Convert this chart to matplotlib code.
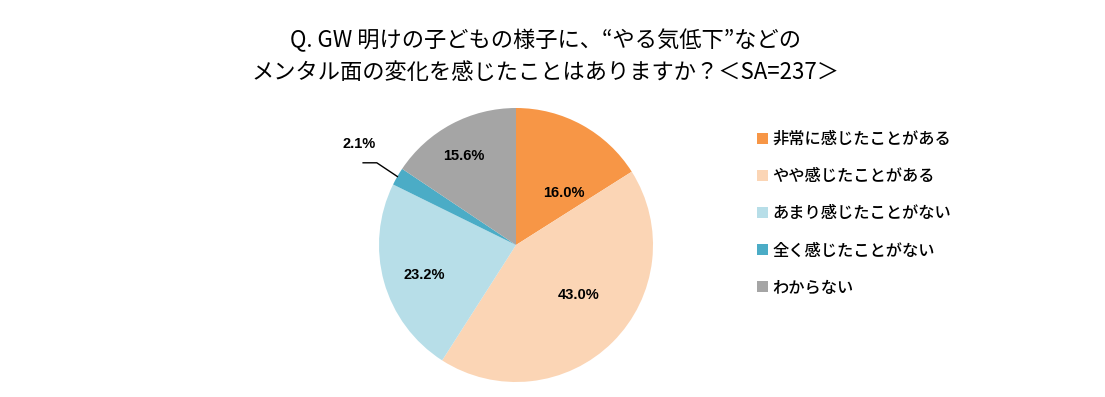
import numpy as np
import matplotlib.pyplot as plt

plt.rcParams['font.family'] = ['Noto Sans CJK JP', 'DejaVu Sans']

# data
labels = ['非常に感じたことがある', 'やや感じたことがある', 'あまり感じたことがない',
          '全く感じたことがない', 'わからない']
values = [16.0, 43.0, 23.2, 2.1, 15.6]
colors = ['#F79646', '#FBD5B5', '#B7DEE8', '#4BACC6', '#A5A5A5']
title = 'Q. GW 明けの子どもの様子に、“やる気低下”などの\nメンタル面の変化を感じたことはありますか？＜SA=237＞'

# label placement (radius fraction, angle offset from wedge middle)
label_r = [0.52, 0.58, 0.70, None, 0.76]
label_shift = [-13, 7, 2, 0, 2]

W, H = 1105, 397
fig = plt.figure(figsize=(W / 100, H / 100), dpi=100)

cx, cy, r = 516, 245, 137
ax = fig.add_axes([(cx - r) / W, (H - cy - r) / H, 2 * r / W, 2 * r / H])
wedges, _ = ax.pie(values, colors=colors, startangle=90, counterclock=False,
                   radius=1, wedgeprops=dict(linewidth=0))
ax.set_xlim(-1, 1)
ax.set_ylim(-1, 1)
ax.axis('off')

for w, v, lr, sh in zip(wedges, values, label_r, label_shift):
    mid = np.deg2rad((w.theta1 + w.theta2) / 2 + sh)
    if lr is None:
        # small slice: leader line out to the left
        ex, ey = np.cos(mid), np.sin(mid)
        ax.plot([ex, ex - 0.15, ex - 0.25], [ey, ey + 0.1, ey + 0.1],
                color='black', lw=1, clip_on=False)
        ax.text(ex - 0.28, ey + 0.24, f'{v:.1f}%', ha='center', va='center',
                fontsize=10.5, fontweight='bold', family='Liberation Sans')
        continue
    ax.text(lr * np.cos(mid), lr * np.sin(mid) - 0.01, f'{v:.1f}%', ha='center',
            va='center', fontsize=10.5, fontweight='bold', family='Liberation Sans')

fig.text(545 / W, 1 - 56 / H, title, ha='center', va='center', fontsize=16,
         linespacing=1.5)

fig.legend(wedges, labels, loc='upper left', bbox_to_anchor=(757 / W, 1 - 131 / H),
           frameon=False, fontsize=11.7, handlelength=0.65, handleheight=0.65,
           handletextpad=0.3, labelspacing=1.24, borderpad=0, borderaxespad=0,
           prop=dict(weight='medium', size=11.7))

fig.savefig('out.png', dpi=100)
